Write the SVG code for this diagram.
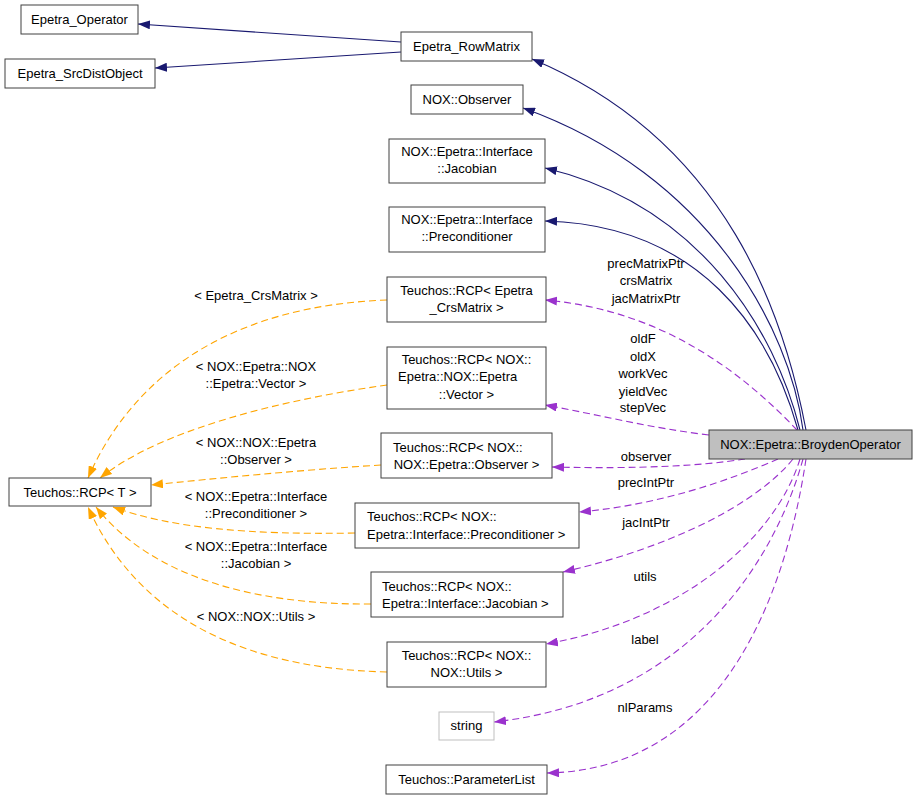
<svg xmlns="http://www.w3.org/2000/svg" width="917" height="800" viewBox="0 0 917 800">
<defs>
<style>
text{font-family:"Liberation Sans",Arial,sans-serif;font-size:13px;fill:#000}
.c{text-anchor:middle}
.n{fill:#fff;stroke:#404040;stroke-width:1}
.g{fill:#fff;stroke:#bfbfbf;stroke-width:1}
.f{fill:#bfbfbf;stroke:#404040;stroke-width:1}
.b{fill:none;stroke:#191970;stroke-width:1.1;marker-end:url(#ab)}
.p{fill:none;stroke:#9a32cd;stroke-width:1.1;stroke-dasharray:7,4;marker-end:url(#ap)}
.o{fill:none;stroke:#ffa500;stroke-width:1.1;stroke-dasharray:7,4;marker-end:url(#ao)}
</style>
<marker id="ab" viewBox="0 0 12 9" refX="12" refY="4.5" markerWidth="12" markerHeight="9" markerUnits="userSpaceOnUse" orient="auto"><path d="M0,0L12,4.5L0,9z" fill="#191970"/></marker>
<marker id="ap" viewBox="0 0 12 9" refX="12" refY="4.5" markerWidth="12" markerHeight="9" markerUnits="userSpaceOnUse" orient="auto"><path d="M0,0L12,4.5L0,9z" fill="#9a32cd"/></marker>
<marker id="ao" viewBox="0 0 12 9" refX="12" refY="4.5" markerWidth="12" markerHeight="9" markerUnits="userSpaceOnUse" orient="auto"><path d="M0,0L12,4.5L0,9z" fill="#ffa500"/></marker>
</defs>
<rect width="917" height="800" fill="#fff"/>
<g id="connectors">
<path class="b" d="M401,42L138,24"/>
<path class="b" d="M401,52L155,68"/>
<path class="b" d="M806,430C785,320 730,142 532,59"/>
<path class="b" d="M803,430C790,330 710,175 523,108"/>
<path class="b" d="M800,430C775,330 700,205 545,168"/>
<path class="b" d="M798,430C770,330 700,225 545,221"/>
<path class="p" d="M797,430C740,370 660,310 545,300"/>
<path class="p" d="M709,435C650,428 600,415 545,405"/>
<path class="p" d="M745,459C700,466 640,469 552,467"/>
<path class="p" d="M778,459C730,480 660,505 579,512"/>
<path class="p" d="M793,459C760,500 680,545 563,572"/>
<path class="p" d="M800,459C775,540 680,620 546,644"/>
<path class="p" d="M803,459C775,560 690,700 494,722"/>
<path class="p" d="M806,459C785,600 720,770 547,773"/>
<path class="o" d="M387,300C250,305 140,360 88,478"/>
<path class="o" d="M387,385C280,400 160,430 100,478"/>
<path class="o" d="M381,465C300,470 220,478 151,485"/>
<path class="o" d="M355,533C250,535 170,528 113,507"/>
<path class="o" d="M371,604C250,605 150,575 96,507"/>
<path class="o" d="M387,672C220,668 130,600 88,507"/>
<text class="c" x="646" y="268">precMatrixPtr</text>
<text class="c" x="646" y="285">crsMatrix</text>
<text class="c" x="646" y="303">jacMatrixPtr</text>
<text class="c" x="643" y="343">oldF</text>
<text class="c" x="643" y="361">oldX</text>
<text class="c" x="643" y="378">workVec</text>
<text class="c" x="643" y="396">yieldVec</text>
<text class="c" x="643" y="412">stepVec</text>
<text class="c" x="646" y="461">observer</text>
<text class="c" x="646" y="487">precIntPtr</text>
<text class="c" x="646" y="527">jacIntPtr</text>
<text class="c" x="645" y="581">utils</text>
<text class="c" x="645" y="644">label</text>
<text class="c" x="645" y="712">nlParams</text>
<text class="c" x="256" y="300">&lt; Epetra_CrsMatrix &gt;</text>
<text class="c" x="256" y="371">&lt; NOX::Epetra::NOX</text>
<text class="c" x="256" y="388">::Epetra::Vector &gt;</text>
<text class="c" x="256" y="447">&lt; NOX::NOX::Epetra</text>
<text class="c" x="256" y="464">::Observer &gt;</text>
<text class="c" x="256" y="501">&lt; NOX::Epetra::Interface</text>
<text class="c" x="256" y="518">::Preconditioner &gt;</text>
<text class="c" x="256" y="551">&lt; NOX::Epetra::Interface</text>
<text class="c" x="256" y="568">::Jacobian &gt;</text>
<text class="c" x="256" y="621">&lt; NOX::NOX::Utils &gt;</text>
</g>
<g id="node_broyden"><rect class="f" x="709" y="430" width="203" height="29"/><text class="c" x="810.5" y="449">NOX::Epetra::BroydenOperator</text></g>
<g id="node_epetra_operator"><rect class="n" x="21" y="5" width="117" height="29"/><text class="c" x="79.5" y="24">Epetra_Operator</text></g>
<g id="node_epetra_srcdistobject"><rect class="n" x="5" y="59" width="150" height="29"/><text class="c" x="80" y="78">Epetra_SrcDistObject</text></g>
<g id="node_epetra_rowmatrix"><rect class="n" x="401" y="32" width="131" height="29"/><text class="c" x="466.5" y="51">Epetra_RowMatrix</text></g>
<g id="node_nox_observer"><rect class="n" x="411" y="85" width="112" height="29"/><text class="c" x="467" y="104">NOX::Observer</text></g>
<g id="node_iface_jacobian"><rect class="n" x="389" y="139" width="156" height="44"/><text class="c" x="467" y="156">NOX::Epetra::Interface</text><text class="c" x="467" y="173">::Jacobian</text></g>
<g id="node_iface_precond"><rect class="n" x="389" y="207" width="156" height="45"/><text class="c" x="467" y="224">NOX::Epetra::Interface</text><text class="c" x="467" y="241">::Preconditioner</text></g>
<g id="node_rcp_crsmatrix"><rect class="n" x="387" y="277" width="159" height="45"/><text class="c" x="466.5" y="295">Teuchos::RCP&lt; Epetra</text><text class="c" x="466.5" y="312">_CrsMatrix &gt;</text></g>
<g id="node_rcp_vector"><rect class="n" x="387" y="347" width="159" height="62"/><text class="c" x="466.5" y="364">Teuchos::RCP&lt; NOX::</text><text x="398" y="381">Epetra::NOX::Epetra</text><text class="c" x="466.5" y="399">::Vector &gt;</text></g>
<g id="node_rcp_observer"><rect class="n" x="381" y="433" width="171" height="45"/><text x="393" y="452">Teuchos::RCP&lt; NOX::</text><text class="c" x="466.5" y="469">NOX::Epetra::Observer &gt;</text></g>
<g id="node_rcp_precond"><rect class="n" x="355" y="503" width="224" height="45"/><text x="367" y="521">Teuchos::RCP&lt; NOX::</text><text x="367" y="539">Epetra::Interface::Preconditioner &gt;</text></g>
<g id="node_rcp_jacobian"><rect class="n" x="371" y="572" width="192" height="45"/><text x="382" y="591">Teuchos::RCP&lt; NOX::</text><text x="382" y="608">Epetra::Interface::Jacobian &gt;</text></g>
<g id="node_rcp_utils"><rect class="n" x="387" y="642" width="159" height="45"/><text class="c" x="466.5" y="660">Teuchos::RCP&lt; NOX::</text><text class="c" x="466.5" y="677">NOX::Utils &gt;</text></g>
<g id="node_string"><rect class="g" x="439" y="712" width="55" height="28"/><text class="c" x="466.5" y="730">string</text></g>
<g id="node_parameterlist"><rect class="n" x="386" y="765" width="161" height="29"/><text class="c" x="466.5" y="784">Teuchos::ParameterList</text></g>
<g id="node_rcp_t"><rect class="n" x="9" y="478" width="142" height="28"/><text class="c" x="80" y="497">Teuchos::RCP&lt; T &gt;</text></g>
</svg>
